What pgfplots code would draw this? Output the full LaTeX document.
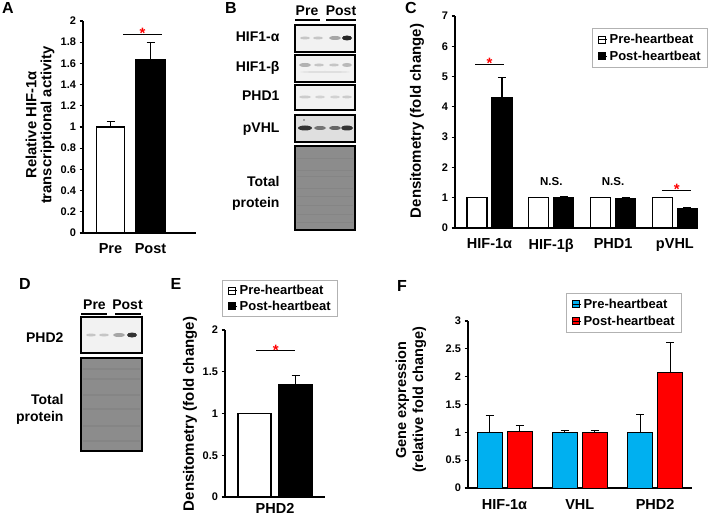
\documentclass[border=0pt]{standalone}
\usepackage{pgfplots}
\pgfplotsset{compat=1.18}
\usepackage{fontspec}
\setmainfont{Liberation Sans}
\definecolor{skyb}{RGB}{0,176,240}
\definecolor{redb}{RGB}{255,0,0}
\newcommand{\fs}[1]{\fontsize{#1bp}{#1bp}\selectfont\bfseries}
\pgfplotsset{
  panel/.style={
    scale only axis, anchor=south west, clip=false,
    axis x line=bottom, axis y line=left,
    axis line style={-, line width=1.1bp, black},
    tick align=outside, major tick length=3.5bp,
    ytick style={line width=1.1bp, black},
    xtick style={draw=none},
    ymin=0, ybar,
    /pgf/number format/assume math mode=true,
    yticklabel style={font=\fs{11}},
    xticklabel style={font=\fs{14.5}},
    every axis plot/.append style={line width=1.3bp, draw=black},
    legend image code/.code={\draw[##1,/tikz/.cd,line width=0.7bp, draw=black] (0bp,-3.5bp) rectangle (7bp,3.5bp); \path (0bp,0bp) -- (9bp,0bp);},
    legend style={draw=gray!60, line width=0.7bp, font=\fs{13}, inner xsep=5bp, inner ysep=3.5bp, row sep=2bp},
    legend cell align=left,
  },
  eb/.style={/pgfplots/error bars/y dir=plus, /pgfplots/error bars/y explicit,
    /pgfplots/error bars/error bar style={line width=1.1bp, black},
    /pgfplots/error bars/error mark options={line width=1.1bp, black, mark size=4bp, rotate=90}},
}
\tikzset{
  sig/.style={red, font=\fs{15}, anchor=base, yshift=-4.5bp, inner sep=0pt},
  ns/.style={font=\fs{11.5}, inner sep=0pt},
  sigline/.style={line width=1.2bp, black},
}
\begin{document}
\begin{tikzpicture}[x=1bp, y=-1bp]
\useasboundingbox (0,0) rectangle (709,519);

% ---------------- Panel A ----------------
\begin{axis}[panel, at={(83bp,-233bp)}, width=113bp, height=212bp,
  xmin=0.3125, xmax=3.1375, ymax=2,
  ytick={0,0.2,0.4,0.6,0.8,1,1.2,1.4,1.6,1.8,2},
  xtick={1,2}, xticklabels={Pre,Post},
  xticklabel style={yshift=-4bp}]
\addplot[fill=white, bar width=28bp, bar shift=0bp, eb] coordinates {(1,1) +- (0,0.05)};
\addplot[fill=black, bar width=29bp, bar shift=0bp, eb] coordinates {(2,1.64) +- (0,0.155)};
\draw[sigline] (axis cs:1.3125,1.875) -- (axis cs:2.2875,1.875);
\node[sig] at (axis cs:1.8,1.875) {*};
\end{axis}

% ---------------- Panel C ----------------
\begin{axis}[panel, at={(455bp,-228bp)}, width=243bp, height=212bp,
  xmin=0.442, xmax=4.374, ymax=7,
  ytick={0,1,2,3,4,5,6,7},
  xtick={1,2,3,4}, xticklabels={HIF-1α,HIF-1β,PHD1,pVHL},
  xticklabel style={yshift=-4bp},
  legend style={at={(1.041,0.943)}, anchor=north east}]
\addplot[fill=white, bar width=20bp, bar shift=-12.5bp] coordinates {(1,1) (2,1) (3,1) (4,1)};
\addlegendentry{Pre-heartbeat}
\addplot[fill=black, bar width=20bp, bar shift=12.5bp, eb] coordinates {(1,4.3) +- (0,0.67) (2,1.01) +- (0,0.04) (3,0.97) +- (0,0.04) (4,0.64) +- (0,0.03)};
\addlegendentry{Post-heartbeat}
\draw[sigline] (axis cs:0.766,5.4) -- (axis cs:1.235,5.4);
\node[sig] at (axis cs:1.0,5.4) {*};
\draw[sigline] (axis cs:3.79,1.25) -- (axis cs:4.26,1.25);
\node[sig] at (axis cs:4.03,1.25) {*};
\node[ns] at (axis cs:2,1.52) {N.S.};
\node[ns] at (axis cs:3,1.52) {N.S.};
\end{axis}

% ---------------- Panel E ----------------
\begin{axis}[panel, at={(225bp,-497bp)}, width=100bp, height=167bp,
  xmin=0.28, xmax=2.719, ymax=2,
  ytick={0,0.5,1,1.5,2},
  xtick={1.5}, xticklabels={PHD2},
  xticklabel style={yshift=1bp},
  legend style={at={(1.13,1.299)}, anchor=north east, inner ysep=2.5bp, row sep=1bp}]
\addplot[fill=white, bar width=33bp, bar shift=0bp] coordinates {(1,1)};
\addlegendentry{Pre-heartbeat}
\addplot[fill=black, bar width=33bp, bar shift=0bp, eb] coordinates {(2,1.34) +- (0,0.12)};
\addlegendentry{Post-heartbeat}
\draw[sigline] (axis cs:1.036,1.75) -- (axis cs:1.987,1.75);
\node[sig] at (axis cs:1.52,1.75) {*};
\end{axis}

% ---------------- Panel F ----------------
\begin{axis}[panel, at={(468bp,-488bp)}, width=224bp, height=167bp,
  xmin=0.515, xmax=3.49, ymax=3,
  ytick={0,0.5,1,1.5,2,2.5,3},
  xtick={1,2,3}, xticklabels={HIF-1α,VHL,PHD2},
  xticklabel style={yshift=-4bp},
  every axis plot/.append style={line width=1bp},
  legend style={at={(0.955,1.168)}, anchor=north east}]
\addplot[fill=skyb, bar width=25bp, bar shift=-15bp, eb] coordinates {(1,1) +- (0,0.31) (2,1) +- (0,0.03) (3,1) +- (0,0.32)};
\addlegendentry{Pre-heartbeat}
\addplot[fill=redb, bar width=25bp, bar shift=15bp, eb] coordinates {(1,1.02) +- (0,0.10) (2,1) +- (0,0.04) (3,2.08) +- (0,0.53)};
\addlegendentry{Post-heartbeat}
\end{axis}

% ---------------- Axis titles ----------------
\node[rotate=90, align=center, font=\fontsize{14.8bp}{15bp}\selectfont\bfseries] at (40,125) {Relative HIF-1α\\transcriptional activity};
\node[rotate=90, font=\fs{15}] at (417,121) {Densitometry (fold change)};
\node[rotate=90, font=\fs{15}] at (190,414) {Densitometry (fold change)};
\node[rotate=90, align=center, font=\fontsize{14.5bp}{17bp}\selectfont\bfseries] at (411,400) {Gene expression\\(relative fold change)};

% ---------------- Panel letters ----------------
\foreach \l/\x/\y in {A/8/8, B/231/8, C/411/8, D/25/284, E/176/284, F/402/286}
  \node[font=\fs{16}] at (\x,\y) {\l};

% ---------------- Blot B ----------------
\node[font=\fs{14}, anchor=base] at (307,16) {Pre};
\node[font=\fs{14}, anchor=base] at (341,16) {Post};
\draw[line width=1.2bp] (295,20) -- (320,20);
\draw[line width=1.2bp] (326,20) -- (356,20);
\foreach \t/\yb in {HIF1-α/42, HIF1-β/72, PHD1/101, pVHL/133, Total/187, protein/208}
  \node[font=\fs{14}, anchor=base east] at (283,\yb) {\t};
% HIF1-alpha
\fill[gray!10] (295,25) rectangle (355,52);
\fill[gray!45] (305,38) ellipse [x radius=5bp, y radius=1.5bp];
\fill[gray!45] (318,38) ellipse [x radius=5bp, y radius=1.5bp];
\fill[gray!70] (335,38) ellipse [x radius=6bp, y radius=2bp];
\fill[black!85] (347,38) ellipse [x radius=5bp, y radius=2.5bp];
\draw[line width=1.3bp] (295,25) rectangle (355,52);
% HIF1-beta
\fill[gray!10] (295,55) rectangle (355,82);
\fill[gray!60] (305,65) ellipse [x radius=6bp, y radius=2bp];
\fill[gray!45] (319,65) ellipse [x radius=5bp, y radius=1.5bp];
\fill[gray!45] (334,65) ellipse [x radius=5bp, y radius=1.5bp];
\fill[gray!55] (347,65) ellipse [x radius=5bp, y radius=2bp];
\fill[gray!25] (325,72) ellipse [x radius=25bp, y radius=1bp];
\draw[line width=1.3bp] (295,55) rectangle (355,82);
% PHD1
\fill[gray!10] (295,85) rectangle (355,110);
\fill[gray!40] (305,97) ellipse [x radius=6bp, y radius=1.5bp];
\fill[gray!35] (320,97) ellipse [x radius=5bp, y radius=1.5bp];
\fill[gray!35] (335,97) ellipse [x radius=5bp, y radius=1.5bp];
\fill[gray!40] (347,97) ellipse [x radius=5bp, y radius=1.5bp];
\draw[line width=1.3bp] (295,85) rectangle (355,110);
% pVHL
\fill[gray!25] (295,115) rectangle (355,142);
\fill[black!80] (305,128) ellipse [x radius=7bp, y radius=2.5bp];
\fill[black!55] (320,128) ellipse [x radius=6bp, y radius=2bp];
\fill[black!60] (335,128) ellipse [x radius=6bp, y radius=2bp];
\fill[black!80] (347,128) ellipse [x radius=6bp, y radius=2.5bp];
\fill[black!60] (304,120) circle [radius=0.8bp];
\draw[line width=1.3bp] (295,115) rectangle (355,142);
% Total protein
\fill[black!45] (295,146) rectangle (355,230);
\foreach \yy in {158,170,176,188,196,205,214,222}
  \fill[black!48] (297,\yy) rectangle (353,\yy+1.5);
\draw[line width=1.3bp] (295,146) rectangle (355,230);

% ---------------- Blot D ----------------
\node[font=\fs{14}, anchor=base] at (94.5,309) {Pre};
\node[font=\fs{14}, anchor=base] at (127.5,309) {Post};
\draw[line width=1.2bp] (81,314) -- (107,314);
\draw[line width=1.2bp] (115,314) -- (141,314);
\node[font=\fs{14}, anchor=base east] at (67,342) {PHD2};
\node[font=\fs{14}, anchor=base east] at (67,404) {Total};
\node[font=\fs{14}, anchor=base east] at (67,421) {protein};
\fill[gray!10] (81,317) rectangle (142,353);
\fill[gray!45] (91,335) ellipse [x radius=5bp, y radius=1.5bp];
\fill[gray!45] (104,335) ellipse [x radius=5bp, y radius=1.5bp];
\fill[gray!70] (119,335) ellipse [x radius=6bp, y radius=2bp];
\fill[black!80] (132,335) ellipse [x radius=5bp, y radius=2.5bp];
\draw[line width=1.3bp] (81,317) rectangle (142,353);
\fill[black!45] (81,358) rectangle (142,451);
\foreach \yy in {368,378,394,408,425,440}
  \fill[black!48] (83,\yy) rectangle (140,\yy+1.5);
\draw[line width=1.3bp] (81,358) rectangle (142,451);
\end{tikzpicture}
\end{document}
